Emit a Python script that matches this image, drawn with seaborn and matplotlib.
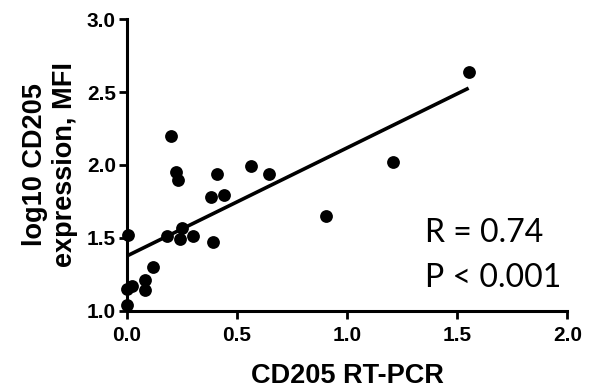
import numpy as np
import pandas as pd
import seaborn as sns
import matplotlib.pyplot as plt

# values
rt_pcr = [0.006, 0.0, 0.0, 0.024, 0.082, 0.082, 0.12, 0.18, 0.24, 0.248, 0.30,
          0.39, 0.382, 0.44, 0.41, 0.562, 0.643, 0.223, 0.233, 0.903, 0.2,
          1.552, 1.21]
mfi_log = [1.52, 1.149, 1.04, 1.17, 1.21, 1.144, 1.30, 1.516, 1.49, 1.566, 1.516,
           1.475, 1.78, 1.795, 1.94, 1.995, 1.94, 1.954, 1.897, 1.65, 2.199,
           2.635, 2.023]
x_ticks = [0.0, 0.5, 1.0, 1.5, 2.0]
y_ticks = [1.0, 1.5, 2.0, 2.5, 3.0]

df = pd.DataFrame({'rt': rt_pcr, 'mfi': mfi_log})

sns.set_style('ticks')
plt.rcParams['font.family'] = ['Liberation Sans', 'DejaVu Sans']
plt.rcParams['text.color'] = 'black'
plt.rcParams['axes.labelcolor'] = 'black'

fig = plt.figure(figsize=(5.99, 3.90), dpi=100)
ax = fig.add_axes([0.212, 0.203, 0.735, 0.748])

sns.regplot(x='rt', y='mfi', data=df, ci=None, ax=ax, color='black',
            scatter_kws={'s': 85, 'clip_on': False, 'linewidths': 0, 'alpha': 1},
            line_kws={'lw': 2.6, 'solid_capstyle': 'butt'})

ax.set_xlim(0, 2.0)
ax.set_ylim(1.0, 3.0)
ax.set_xticks(x_ticks)
ax.set_yticks(y_ticks)
ax.set_xticklabels([f'{t:.1f}' for t in x_ticks], fontsize=15, fontweight='bold')
ax.set_yticklabels([f'{t:.1f}' for t in y_ticks], fontsize=15, fontweight='bold')
ax.set_xlabel('CD205 RT-PCR', fontsize=19.5, fontweight='bold', labelpad=13)
ax.set_ylabel('log10 CD205\nexpression, MFI', fontsize=19.5, fontweight='bold', labelpad=6)
ax.tick_params(width=2, length=6, colors='black', labelcolor='black', pad=2)
ax.tick_params(axis='x', pad=5)
for side in ['left', 'bottom']:
    ax.spines[side].set_linewidth(2.2)
    ax.spines[side].set_color('black')
sns.despine(ax=ax)

ax.text(0.677, 0.236, 'R = 0.74', transform=ax.transAxes, fontsize=23,
        family='Lato', va='baseline')
ax.text(0.677, 0.082, 'P < 0.001', transform=ax.transAxes, fontsize=23,
        family='Lato', va='baseline')

fig.savefig('out.png', dpi=100)
